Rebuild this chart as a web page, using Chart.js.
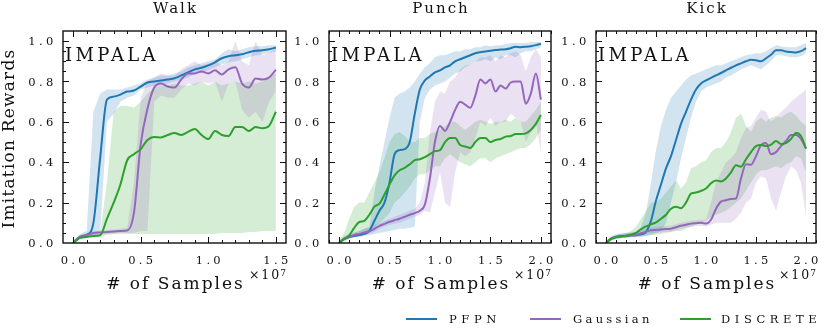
<!DOCTYPE html>
<html>
<head>
<meta charset="utf-8">
<script src="https://cdn.jsdelivr.net/npm/chart.js@4.4.1/dist/chart.umd.min.js"></script>
<style>
  html, body { margin: 0; padding: 0; background: #fff; }
  #fig { position: relative; width: 829px; height: 333px; overflow: hidden; }
  #fig canvas { position: absolute; top: 0; }
</style>
</head>
<body>
<div id="fig">
  <canvas id="walk" width="290" height="333" style="left:0px"></canvas>
  <canvas id="punch" width="265" height="333" style="left:290px"></canvas>
  <canvas id="kick" width="449" height="333" style="left:380px"></canvas>
</div>
<script>
// ---- data (x in units of 1e7 samples) ----
const walkSamples = [0, 0.05, 0.1, 0.15, 0.2, 0.25, 0.3, 0.35, 0.4, 0.45, 0.5, 0.55, 0.6, 0.65, 0.7, 0.75, 0.8, 0.85, 0.9, 0.95, 1.0, 1.05, 1.1, 1.15, 1.2, 1.25, 1.3, 1.35, 1.4, 1.45, 1.5];
const longSamples = [0, 0.05, 0.1, 0.15, 0.2, 0.25, 0.3, 0.35, 0.4, 0.45, 0.5, 0.55, 0.6, 0.65, 0.7, 0.75, 0.8, 0.85, 0.9, 0.95, 1.0, 1.05, 1.1, 1.15, 1.2, 1.25, 1.3, 1.35, 1.4, 1.45, 1.5, 1.55, 1.6, 1.65, 1.7, 1.75, 1.8, 1.85, 1.9, 1.95, 2.0];

const walkPFPN   = [0, 0.03, 0.04, 0.1, 0.42, 0.71, 0.725, 0.735, 0.75, 0.755, 0.775, 0.795, 0.8, 0.805, 0.81, 0.816, 0.83, 0.845, 0.86, 0.868, 0.88, 0.895, 0.915, 0.925, 0.93, 0.935, 0.945, 0.952, 0.955, 0.96, 0.968];
const walkPFPNHi = [0.01, 0.045, 0.06, 0.65, 0.74, 0.76, 0.76, 0.76, 0.77, 0.78, 0.79, 0.81, 0.82, 0.83, 0.83, 0.84, 0.85, 0.87, 0.88, 0.89, 0.9, 0.91, 0.94, 0.96, 0.95, 0.96, 0.97, 0.975, 0.975, 0.98, 0.98];
const walkPFPNLo = [0, 0.02, 0.03, 0.03, 0.05, 0.6, 0.64, 0.7, 0.72, 0.73, 0.76, 0.77, 0.78, 0.785, 0.79, 0.8, 0.81, 0.82, 0.84, 0.845, 0.855, 0.87, 0.885, 0.895, 0.9, 0.91, 0.92, 0.93, 0.935, 0.94, 0.95];
const walkGauss   = [0, 0.03, 0.04, 0.05, 0.052, 0.055, 0.057, 0.06, 0.062, 0.15, 0.49, 0.665, 0.77, 0.79, 0.775, 0.77, 0.81, 0.84, 0.84, 0.85, 0.84, 0.855, 0.835, 0.86, 0.87, 0.79, 0.77, 0.815, 0.81, 0.82, 0.858];
const walkGaussHi = [0.01, 0.04, 0.05, 0.06, 0.062, 0.065, 0.067, 0.07, 0.075, 0.3, 0.72, 0.8, 0.82, 0.84, 0.83, 0.83, 0.86, 0.88, 0.9, 0.88, 0.89, 0.9, 0.88, 0.9, 1.0, 0.9, 0.88, 1.0, 0.93, 0.94, 0.97];
const walkGaussLo = [0, 0.02, 0.03, 0.04, 0.042, 0.045, 0.047, 0.05, 0.05, 0.05, 0.06, 0.06, 0.7, 0.73, 0.72, 0.72, 0.76, 0.79, 0.78, 0.8, 0.79, 0.8, 0.7, 0.79, 0.8, 0.66, 0.62, 0.65, 0.6, 0.7, 0.75];
const walkDisc   = [0, 0.025, 0.03, 0.035, 0.038, 0.12, 0.2, 0.29, 0.41, 0.44, 0.465, 0.51, 0.525, 0.523, 0.535, 0.545, 0.535, 0.55, 0.565, 0.535, 0.515, 0.555, 0.535, 0.53, 0.575, 0.575, 0.555, 0.575, 0.568, 0.58, 0.65];
const walkDiscHi = [0.005, 0.035, 0.04, 0.045, 0.05, 0.3, 0.65, 0.68, 0.68, 0.67, 0.7, 0.74, 0.77, 0.78, 0.78, 0.79, 0.78, 0.78, 0.79, 0.8, 0.78, 0.8, 0.78, 0.79, 0.8, 0.79, 0.8, 0.79, 0.8, 0.82, 0.84];
const walkDiscLo = [0, 0.02, 0.025, 0.03, 0.03, 0.04, 0.045, 0.045, 0.045, 0.045, 0.045, 0.045, 0.045, 0.045, 0.045, 0.045, 0.045, 0.045, 0.045, 0.045, 0.045, 0.045, 0.05, 0.05, 0.05, 0.05, 0.055, 0.055, 0.06, 0.06, 0.06];

const punchPFPN   = [0, 0.02, 0.03, 0.035, 0.04, 0.045, 0.06, 0.11, 0.16, 0.2, 0.3, 0.44, 0.46, 0.465, 0.5, 0.64, 0.76, 0.805, 0.825, 0.845, 0.855, 0.87, 0.88, 0.9, 0.91, 0.92, 0.93, 0.94, 0.945, 0.948, 0.952, 0.956, 0.958, 0.96, 0.965, 0.972, 0.97, 0.972, 0.975, 0.98, 0.987];
const punchPFPNHi = [0.01, 0.03, 0.04, 0.05, 0.06, 0.07, 0.08, 0.25, 0.38, 0.5, 0.62, 0.72, 0.74, 0.75, 0.77, 0.8, 0.84, 0.87, 0.89, 0.92, 0.93, 0.93, 0.94, 0.95, 0.95, 0.96, 0.96, 0.97, 0.97, 0.98, 0.975, 0.98, 0.98, 0.985, 0.99, 0.99, 0.99, 0.99, 0.995, 0.995, 0.995];
const punchPFPNLo = [0, 0.015, 0.025, 0.03, 0.03, 0.035, 0.04, 0.045, 0.05, 0.055, 0.06, 0.065, 0.07, 0.07, 0.075, 0.08, 0.6, 0.72, 0.76, 0.78, 0.79, 0.8, 0.82, 0.84, 0.85, 0.87, 0.88, 0.9, 0.9, 0.91, 0.9, 0.92, 0.91, 0.93, 0.93, 0.92, 0.94, 0.95, 0.95, 0.96, 0.97];
const punchGauss   = [0, 0.02, 0.03, 0.04, 0.045, 0.052, 0.058, 0.07, 0.085, 0.095, 0.105, 0.113, 0.12, 0.13, 0.14, 0.148, 0.16, 0.19, 0.32, 0.5, 0.58, 0.555, 0.6, 0.66, 0.7, 0.685, 0.67, 0.73, 0.81, 0.79, 0.81, 0.75, 0.78, 0.765, 0.795, 0.8, 0.8, 0.69, 0.74, 0.84, 0.71];
const punchGaussHi = [0.01, 0.035, 0.045, 0.055, 0.06, 0.07, 0.075, 0.09, 0.1, 0.11, 0.12, 0.13, 0.14, 0.15, 0.16, 0.17, 0.2, 0.3, 0.55, 0.7, 0.75, 0.74, 0.8, 0.82, 0.86, 0.88, 0.88, 0.9, 0.92, 0.92, 0.93, 0.9, 0.93, 0.92, 0.94, 0.95, 0.93, 0.85, 0.92, 0.96, 0.92];
const punchGaussLo = [0, 0.01, 0.02, 0.03, 0.035, 0.04, 0.045, 0.055, 0.07, 0.08, 0.09, 0.095, 0.1, 0.11, 0.12, 0.13, 0.14, 0.16, 0.15, 0.25, 0.35, 0.2, 0.18, 0.35, 0.45, 0.43, 0.45, 0.52, 0.6, 0.58, 0.62, 0.58, 0.6, 0.6, 0.64, 0.62, 0.6, 0.5, 0.55, 0.6, 0.45];
const punchDisc   = [0, 0.02, 0.038, 0.075, 0.104, 0.11, 0.14, 0.18, 0.195, 0.24, 0.29, 0.335, 0.36, 0.372, 0.39, 0.41, 0.415, 0.425, 0.44, 0.455, 0.46, 0.5, 0.52, 0.52, 0.485, 0.478, 0.47, 0.5, 0.52, 0.52, 0.5, 0.51, 0.515, 0.527, 0.53, 0.54, 0.54, 0.543, 0.56, 0.59, 0.634];
const punchDiscHi = [0.01, 0.05, 0.12, 0.18, 0.2, 0.2, 0.25, 0.3, 0.35, 0.42, 0.5, 0.54, 0.55, 0.53, 0.5, 0.5, 0.52, 0.52, 0.54, 0.55, 0.56, 0.58, 0.6, 0.6, 0.58, 0.56, 0.58, 0.6, 0.61, 0.6, 0.59, 0.6, 0.6, 0.61, 0.6, 0.62, 0.6, 0.6, 0.63, 0.66, 0.7];
const punchDiscLo = [0, 0.01, 0.02, 0.03, 0.04, 0.05, 0.06, 0.08, 0.1, 0.12, 0.15, 0.2, 0.22, 0.25, 0.28, 0.32, 0.34, 0.34, 0.36, 0.38, 0.38, 0.42, 0.44, 0.42, 0.4, 0.39, 0.38, 0.4, 0.42, 0.42, 0.4, 0.42, 0.43, 0.44, 0.45, 0.46, 0.47, 0.47, 0.49, 0.52, 0.56];

const kickPFPN   = [0, 0.02, 0.03, 0.033, 0.036, 0.038, 0.04, 0.043, 0.055, 0.11, 0.21, 0.29, 0.37, 0.43, 0.51, 0.59, 0.65, 0.71, 0.76, 0.79, 0.805, 0.818, 0.83, 0.842, 0.855, 0.868, 0.88, 0.89, 0.9, 0.907, 0.905, 0.9, 0.915, 0.932, 0.955, 0.955, 0.948, 0.946, 0.944, 0.95, 0.965];
const kickPFPNHi = [0.01, 0.03, 0.04, 0.045, 0.05, 0.05, 0.055, 0.08, 0.15, 0.3, 0.46, 0.58, 0.66, 0.72, 0.75, 0.78, 0.81, 0.83, 0.84, 0.85, 0.86, 0.87, 0.88, 0.88, 0.89, 0.9, 0.91, 0.92, 0.93, 0.935, 0.94, 0.94, 0.95, 0.965, 0.98, 0.975, 0.97, 0.97, 0.97, 0.98, 0.99];
const kickPFPNLo = [0, 0.015, 0.02, 0.025, 0.028, 0.03, 0.03, 0.03, 0.035, 0.04, 0.05, 0.06, 0.1, 0.2, 0.3, 0.42, 0.52, 0.62, 0.7, 0.75, 0.77, 0.78, 0.79, 0.8, 0.82, 0.83, 0.845, 0.86, 0.87, 0.88, 0.87, 0.86, 0.88, 0.9, 0.93, 0.93, 0.925, 0.92, 0.92, 0.925, 0.94];
const kickGauss   = [0, 0.02, 0.03, 0.033, 0.036, 0.038, 0.04, 0.048, 0.056, 0.063, 0.065, 0.067, 0.069, 0.071, 0.078, 0.085, 0.09, 0.096, 0.098, 0.1, 0.096, 0.115, 0.17, 0.205, 0.212, 0.218, 0.22, 0.32, 0.39, 0.388, 0.43, 0.485, 0.495, 0.44, 0.45, 0.48, 0.505, 0.535, 0.535, 0.515, 0.468];
const kickGaussHi = [0.01, 0.035, 0.045, 0.048, 0.05, 0.053, 0.055, 0.063, 0.07, 0.078, 0.08, 0.082, 0.084, 0.086, 0.093, 0.1, 0.105, 0.11, 0.113, 0.115, 0.115, 0.2, 0.3, 0.35, 0.4, 0.42, 0.45, 0.52, 0.57, 0.58, 0.62, 0.66, 0.65, 0.6, 0.62, 0.65, 0.67, 0.7, 0.72, 0.74, 0.76];
const kickGaussLo = [0, 0.01, 0.02, 0.022, 0.025, 0.027, 0.028, 0.035, 0.042, 0.048, 0.05, 0.052, 0.054, 0.056, 0.063, 0.07, 0.075, 0.08, 0.083, 0.085, 0.082, 0.09, 0.1, 0.1, 0.1, 0.1, 0.12, 0.15, 0.2, 0.22, 0.3, 0.33, 0.32, 0.22, 0.16, 0.25, 0.33, 0.38, 0.36, 0.3, 0.13];
const kickDisc   = [0, 0.02, 0.03, 0.033, 0.035, 0.042, 0.05, 0.068, 0.082, 0.092, 0.102, 0.12, 0.14, 0.17, 0.18, 0.172, 0.2, 0.245, 0.25, 0.258, 0.27, 0.296, 0.31, 0.305, 0.32, 0.35, 0.385, 0.378, 0.415, 0.45, 0.48, 0.485, 0.48, 0.487, 0.505, 0.49, 0.495, 0.515, 0.545, 0.53, 0.468];
const kickDiscHi = [0.005, 0.03, 0.04, 0.045, 0.05, 0.06, 0.08, 0.12, 0.16, 0.2, 0.2, 0.22, 0.25, 0.28, 0.31, 0.27, 0.3, 0.37, 0.38, 0.4, 0.41, 0.45, 0.47, 0.47, 0.5, 0.55, 0.62, 0.64, 0.58, 0.55, 0.6, 0.62, 0.6, 0.62, 0.63, 0.62, 0.64, 0.65, 0.63, 0.6, 0.58];
const kickDiscLo = [0, 0.01, 0.02, 0.025, 0.025, 0.03, 0.03, 0.035, 0.035, 0.04, 0.04, 0.045, 0.05, 0.055, 0.06, 0.06, 0.07, 0.08, 0.09, 0.1, 0.11, 0.13, 0.14, 0.15, 0.16, 0.18, 0.2, 0.22, 0.26, 0.3, 0.34, 0.36, 0.36, 0.37, 0.38, 0.37, 0.39, 0.4, 0.43, 0.42, 0.35];

const walkXTicks = [0, 0.5, 1.0, 1.5];
const longXTicks = [0, 0.5, 1.0, 1.5, 2.0];
const yTicks = [0, 0.2, 0.4, 0.6, 0.8, 1.0];
const methods = ['PFPN', 'Gaussian', 'DISCRETE'];

// ---- style ----
const FONT = 'DejaVu Serif';
const INK = '#111';
const lineColors = ['#1f77b4', '#9467bd', '#2ca02c'];
const bandColors = ['rgba(31,119,180,0.2)', 'rgba(148,103,189,0.2)', 'rgba(44,160,44,0.2)'];
// legend entry offsets inside the kick canvas: [line start, text start]
const legendSlots = [[26, 69], [150, 193], [300, 341]];

function xy(xs, ys) {
  return xs.map((x, i) => ({ x: x, y: ys[i] }));
}

function setText(ctx, size, spacing, align, baseline) {
  ctx.font = size + 'px ' + FONT;
  ctx.letterSpacing = spacing + 'px';
  ctx.textAlign = align;
  ctx.textBaseline = baseline || 'alphabetic';
}

// frame with inward ticks, tick labels, titles and the legend
const deco = {
  id: 'deco',
  afterDraw(chart, args, opts) {
    const { ctx, chartArea: a, scales: { x, y } } = chart;
    const cx = (a.left + a.right) / 2;
    const isMajor = (v, step) => Math.abs(v / step - Math.round(v / step)) < 1e-6;
    ctx.save();
    ctx.strokeStyle = INK;
    ctx.fillStyle = INK;

    // ticks on all four sides
    ctx.lineWidth = 1;
    ctx.beginPath();
    for (let k = Math.ceil(x.min / 0.1); k * 0.1 <= x.max; k++) {
      const v = k * 0.1;
      const len = isMajor(v, 0.5) ? 6 : 3;
      const px = Math.round(x.getPixelForValue(v)) + 0.5;
      ctx.moveTo(px, a.bottom); ctx.lineTo(px, a.bottom - len);
      ctx.moveTo(px, a.top); ctx.lineTo(px, a.top + len);
    }
    for (let k = 1; k * 0.05 < y.max - 1e-6; k++) {
      const v = k * 0.05;
      const len = isMajor(v, 0.2) ? 6 : 3;
      const py = Math.round(y.getPixelForValue(v)) + 0.5;
      ctx.moveTo(a.left, py); ctx.lineTo(a.left + len, py);
      ctx.moveTo(a.right, py); ctx.lineTo(a.right - len, py);
    }
    ctx.stroke();
    ctx.lineWidth = 1.4;
    ctx.strokeRect(a.left, a.top, a.right - a.left, a.bottom - a.top);

    // tick labels
    setText(ctx, 11.5, 3.3, 'center');
    x.ticks.forEach(t => ctx.fillText(t.value.toFixed(1), x.getPixelForValue(t.value) + 1.6, a.bottom + 20.5));
    setText(ctx, 11.5, 3.3, 'right');
    y.ticks.forEach(t => ctx.fillText(t.value.toFixed(1), a.left - 6.5, y.getPixelForValue(t.value) + 4.2));

    // title, run tag, axis labels
    setText(ctx, 15, 2, 'center');
    ctx.fillText(opts.title, cx + 1, 13);
    setText(ctx, 18, 3.3, 'left');
    ctx.fillText(opts.tag, a.left + 2, a.top + 29.5);
    setText(ctx, 17, 2, 'center');
    ctx.fillText('# of Samples', cx + 1, a.bottom + 46);
    setText(ctx, 9, 0, 'right');
    ctx.fillText('7', a.right, a.bottom + 32.5);
    const w7 = ctx.measureText('7').width;
    setText(ctx, 12.5, 2, 'right');
    ctx.fillText('\u00d710', a.right - w7 + 1, a.bottom + 36);

    if (opts.yTitle) {
      ctx.save();
      ctx.translate(10, (a.top + a.bottom) / 2 + 1.5);
      ctx.rotate(-Math.PI / 2);
      setText(ctx, 17, 1.2, 'center', 'middle');
      ctx.fillText('Imitation Rewards', 0, 0);
      ctx.restore();
    }

    // legend under the last two panels
    if (opts.legend) {
      const ly = 319;
      chart.data.datasets.filter(d => d.isMean).forEach((d, i) => {
        const [lineX, textX] = legendSlots[i];
        ctx.fillStyle = d.borderColor;
        ctx.fillRect(lineX, ly - 1, 31, 2);
        ctx.fillStyle = INK;
        setText(ctx, 11.5, i === 1 ? 3.3 : 4.6, 'left');
        ctx.fillText(d.label, textX, ly + 4);
      });
    }
    ctx.restore();
  }
};

function buildDatasets(samples, series) {
  const ds = [];
  series.forEach((s, i) => {
    const hiIndex = ds.length;
    ds.push({ label: methods[i] + ' hi', data: xy(samples, s[1]), borderWidth: 0, borderColor: 'rgba(0,0,0,0)',
              backgroundColor: bandColors[i], fill: hiIndex + 1, order: 10, tension: 0, pointRadius: 0 });
    ds.push({ label: methods[i] + ' lo', data: xy(samples, s[2]), borderWidth: 0, borderColor: 'rgba(0,0,0,0)',
              fill: false, order: 10, tension: 0, pointRadius: 0 });
  });
  series.forEach((s, i) => {
    ds.push({ label: methods[i], isMean: true, data: xy(samples, s[0]), borderColor: lineColors[i], borderWidth: 2,
              fill: false, order: 3 - i, cubicInterpolationMode: 'monotone', pointRadius: 0 });
  });
  return ds;
}

function makePanel(p) {
  new Chart(document.getElementById(p.id), {
    type: 'line',
    data: { datasets: buildDatasets(p.samples, p.series) },
    options: {
      responsive: false,
      animation: false,
      events: [],
      layout: { padding: { top: 31, right: p.padRight, left: 0, bottom: 0 } },
      scales: {
        x: {
          type: 'linear',
          min: -0.05 * p.xMax,
          max: 1.05 * p.xMax,
          afterBuildTicks: s => { s.ticks = p.xTicks.map(v => ({ value: v })); },
          afterFit: s => { s.height = 90; s.paddingLeft = 0; s.paddingRight = 0; },
          grid: { display: false },
          border: { display: false },
          ticks: { display: false }
        },
        y: {
          min: 0,
          max: 1.05,
          afterBuildTicks: s => { s.ticks = yTicks.map(v => ({ value: v })); },
          afterFit: s => { s.width = p.yAxisWidth; s.paddingTop = 0; s.paddingBottom = 0; },
          grid: { display: false },
          border: { display: false },
          ticks: { display: false }
        }
      },
      plugins: {
        tooltip: { enabled: false },
        legend: { display: false },
        deco: { title: p.title, tag: 'IMPALA', yTitle: !!p.yTitle, legend: !!p.legend }
      }
    },
    plugins: [deco]
  });
}

makePanel({ id: 'walk', title: 'Walk', samples: walkSamples, xTicks: walkXTicks, xMax: 1.5,
            series: [[walkPFPN, walkPFPNHi, walkPFPNLo], [walkGauss, walkGaussHi, walkGaussLo], [walkDisc, walkDiscHi, walkDiscLo]],
            yAxisWidth: 63, padRight: 4, yTitle: true });
makePanel({ id: 'punch', title: 'Punch', samples: longSamples, xTicks: longXTicks, xMax: 2.0,
            series: [[punchPFPN, punchPFPNHi, punchPFPNLo], [punchGauss, punchGaussHi, punchGaussLo], [punchDisc, punchDiscHi, punchDiscLo]],
            yAxisWidth: 39, padRight: 4 });
makePanel({ id: 'kick', title: 'Kick', samples: longSamples, xTicks: longXTicks, xMax: 2.0,
            series: [[kickPFPN, kickPFPNHi, kickPFPNLo], [kickGauss, kickGaussHi, kickGaussLo], [kickDisc, kickDiscHi, kickDiscLo]],
            yAxisWidth: 216, padRight: 13, legend: true });
</script>
</body>
</html>
